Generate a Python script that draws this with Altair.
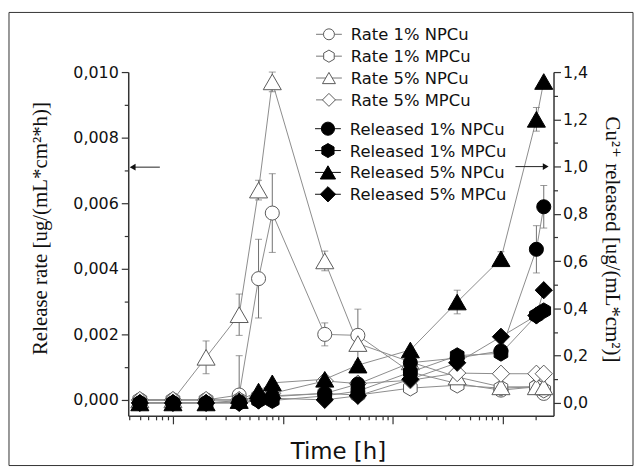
import altair as alt
import pandas as pd

# ---------------- data ----------------
time_h = [0.5, 1, 2, 4, 6, 8, 24, 48, 144, 384, 960, 2016, 2352]

rate_names = ["Rate 1% NPCu", "Rate 1% MPCu", "Rate 5% NPCu", "Rate 5% MPCu"]
released_names = ["Released 1% NPCu", "Released 1% MPCu", "Released 5% NPCu", "Released 5% MPCu"]

rate_1np = [0, 0, 0, 0.00015, 0.0037, 0.0057, 0.0020, 0.00197, 0.00085, 0.0005, 0.0003, 0.0004, 0.0002]
rate_1np_err = [0, 0, 0, 0.0012, 0.0012, 0.0012, 0.00035, 0.0008, 0.0001, 0.0001, 0.0001, 0.0001, 0.0001]
rate_1mp = [0, 0, 0, 0, 0.0001, 0.0001, 0.0002, 0.00015, 0.00036, 0.00045, 0.00036, 0.0004, 0.0003]
rate_1mp_err = [0, 0, 0, 0, 0, 0, 0, 0, 0, 0.0001, 0.0001, 0.0001, 0.0001]
rate_5np = [0, 0, 0.0013, 0.0026, 0.0064, 0.0097, 0.00424, 0.00172, 0.00116, 0.0007, 0.0004, 0.0004, 0.0004]
rate_5np_err = [0, 0, 0.0005, 0.00063, 0.0003, 0.0003, 0.0003, 0.0001, 0, 0, 0.0001, 0.0001, 0.0001]
rate_5mp = [0, 0, 0, 0, 0.0001, 0.0002, 0.00058, 0.0005, 0.0006, 0.00082, 0.0008, 0.0008, 0.0008]
rate_5mp_err = [0, 0, 0, 0, 0, 0, 0, 0, 0, 0.0001, 0.0001, 0.0001, 0.0001]

rel_1np = [0, 0, 0, 0.005, 0.02, 0.03, 0.04, 0.08, 0.17, 0.19, 0.22, 0.65, 0.83]
rel_1np_err = [0, 0, 0, 0, 0, 0, 0, 0, 0, 0, 0, 0.1, 0.09]
rel_1mp = [0, 0, 0, 0, 0.01, 0.01, 0.03, 0.05, 0.13, 0.2, 0.21, 0.37, 0.39]
rel_1mp_err = [0] * 13
rel_5np = [0, 0, 0, 0.01, 0.05, 0.085, 0.1, 0.16, 0.224, 0.427, 0.61, 1.2, 1.36]
rel_5np_err = [0, 0, 0, 0, 0, 0, 0, 0, 0, 0.05, 0.03, 0.05, 0]
rel_5mp = [0, 0, 0, 0, 0.01, 0.02, 0.013, 0.03, 0.1, 0.17, 0.28, 0.37, 0.477]
rel_5mp_err = [0] * 13

# axis-pointing arrows (data units)
arrow_left_x = [0.43, 0.76]
arrow_left_y = 0.0071
arrow_right_x = [1300, 2450]
arrow_right_y = 1.0

# ---------------- layout constants ----------------
VIEW_X0, VIEW_Y0 = 128, 70          # page position of plot origin
W, H = 428, 346
SANS = "DejaVu Sans"
SERIF = "Liberation Serif, DejaVu Serif, serif"
AX_COL = "#333333"
LINE_COL = "#8c8c8c"
ERR_COL = "#707070"
OPEN_STROKE = "#5a5a5a"
HEX = "M0,-1L0.866,-0.5L0.866,0.5L0,1L-0.866,0.5L-0.866,-0.5Z"
point_shapes = [("circle", 200), (HEX, 250), ("triangle-up", 330), ("diamond", 300)]
legend_open_sizes = [121, 150, 170, 170]
legend_filled_sizes = [175, 200, 235, 235]

# ---------------- tables ----------------
def long_table(names, values, errors):
    rows = []
    for n, vals, errs in zip(names, values, errors):
        for t, v, e in zip(time_h, vals, errs):
            lo = max(v - e, 0.0)
            rows.append({"time": t, "series": n, "v": v, "err": e, "lo": lo, "hi": v + e,
                         "locap": 1 if (v - e) >= 0 else 0})
    return pd.DataFrame(rows)

rate_df = long_table(rate_names, [rate_1np, rate_1mp, rate_5np, rate_5mp],
                     [rate_1np_err, rate_1mp_err, rate_5np_err, rate_5mp_err])
rel_df = long_table(released_names, [rel_1np, rel_1mp, rel_5np, rel_5mp],
                    [rel_1np_err, rel_1mp_err, rel_5np_err, rel_5mp_err])

arrowL_df = pd.DataFrame({"x": arrow_left_x, "y": [arrow_left_y] * 2})
arrowR_df = pd.DataFrame({"x": arrow_right_x, "y": [arrow_right_y] * 2})
frame_df = pd.DataFrame({"k": [0]})

def legend_table(names, cx, cy0, dy, sizes):
    rows = []
    for i, (n, (shape, _), sz) in enumerate(zip(names, point_shapes, sizes)):
        y = cy0 + dy * i - VIEW_Y0
        rows.append({"series": n, "shape": shape, "sz": sz,
                     "x1": cx - 13 - VIEW_X0, "x2": cx + 13 - VIEW_X0, "xc": cx - VIEW_X0,
                     "xt": cx + 22 - VIEW_X0, "y": y})
    return pd.DataFrame(rows)

leg_open = legend_table(rate_names, 330, 32, 22, legend_open_sizes)
leg_filled = legend_table(released_names, 329, 127, 22, legend_filled_sizes)

# ---------------- scales & axes ----------------
x_ticks = []
for dec in [0.1, 1, 10, 100, 1000]:
    for k in range(1, 10):
        v = round(k * dec, 6)
        if 0.392 <= v <= 2885:
            x_ticks.append(v)

x_scale = alt.Scale(type="log", domain=[0.392, 2885], nice=False)
x_axis = alt.Axis(
    values=x_ticks, labels=False, grid=False, domainColor=AX_COL, domainWidth=1.5,
    tickColor=AX_COL, tickWidth=1.2,
    tickSize={"condition": {"test": "abs(log(datum.value)/LN10 - round(log(datum.value)/LN10)) < 0.001", "value": 8}, "value": 4},
    title="Time [h]", titleFont=SANS, titleFontSize=23, titleFontWeight="normal", titleColor="#111",
    titleX=211, titleY=36, titleBaseline="middle", titleAlign="center",
)

left_scale = alt.Scale(domain=[-0.000485, 0.010], nice=False, zero=False)
left_major = "abs(datum.value*500 - round(datum.value*500)) < 0.000001"
left_axis = alt.Axis(
    orient="left", values=[round(i * 0.001, 3) for i in range(11)], grid=False,
    domainColor=AX_COL, domainWidth=1.5, tickColor=AX_COL, tickWidth=1.2,
    tickSize={"condition": {"test": left_major, "value": 7}, "value": 4},
    labelExpr=f"({left_major}) ? replace(format(datum.value, '.3f'), '.', ',') : ''",
    labelFont=SANS, labelFontSize=16, labelColor="#111", labelPadding=3,
    title="Release rate [ug/(mL*cm²*h)]", titleFont=SERIF, titleFontSize=21,
    titleFontWeight="normal", titleColor="#111", titleAngle=-90,
    titleX=-88, titleY=157, titleAlign="center", titleBaseline="middle",
)

right_scale = alt.Scale(domain=[-0.0547, 1.4], nice=False, zero=False)
right_major = "abs(datum.value*5 - round(datum.value*5)) < 0.000001"
right_axis = alt.Axis(
    orient="right", values=[round(i * 0.1, 1) for i in range(15)], grid=False,
    domainColor=AX_COL, domainWidth=1.5, tickColor=AX_COL, tickWidth=1.2,
    tickSize={"condition": {"test": right_major, "value": 7}, "value": 4},
    labelExpr=f"({right_major}) ? replace(format(datum.value, '.1f'), '.', ',') : ''",
    labelFont=SANS, labelFontSize=16, labelColor="#111", labelPadding=2,
    title="Cu²⁺ released [ug/(mL*cm²)]", titleFont=SERIF, titleFontSize=21,
    titleFontWeight="normal", titleColor="#111", titleAngle=90,
    titleX=58, titleY=168, titleAlign="center", titleBaseline="middle",
)

X = lambda f: alt.X(f"{f}:Q", scale=x_scale, axis=x_axis)
YL = lambda f: alt.Y(f"{f}:Q", scale=left_scale, axis=left_axis)
YR = lambda f: alt.Y(f"{f}:Q", scale=right_scale, axis=right_axis)
PX = lambda f: alt.X(f"{f}:Q", scale=None, axis=None)
PY = lambda f: alt.Y(f"{f}:Q", scale=None, axis=None)


def group(df, names, Y, open_markers):
    layers = []
    layers.append(
        alt.Chart(df).mark_line(color=LINE_COL, strokeWidth=1).encode(
            x=X("time"), y=Y("v"), detail="series:N")
    )
    err = alt.Chart(df).transform_filter("datum.err > 0")
    layers.append(err.mark_rule(color=ERR_COL, strokeWidth=1).encode(x=X("time"), y=Y("lo"), y2="hi"))
    layers.append(err.transform_filter("datum.locap == 1")
                  .mark_tick(color=ERR_COL, orient="horizontal", size=7, thickness=1)
                  .encode(x=X("time"), y=Y("lo")))
    layers.append(err.mark_tick(color=ERR_COL, orient="horizontal", size=7, thickness=1)
                  .encode(x=X("time"), y=Y("hi")))
    for name, (shape, size) in zip(names, point_shapes):
        sub = alt.Chart(df).transform_filter(alt.FieldEqualPredicate(field="series", equal=name))
        if open_markers:
            m = sub.mark_point(shape=shape, size=size, filled=True, fill="white", stroke=OPEN_STROKE,
                               strokeWidth=1, opacity=1)
        else:
            m = sub.mark_point(shape=shape, size=size, filled=True, fill="black", stroke="black",
                               strokeWidth=1, opacity=1)
        layers.append(m.encode(x=X("time"), y=Y("v")))
    return layers


def legend_layers(ldf, open_markers):
    line_col = "#777777" if open_markers else "#111111"
    fill = "white" if open_markers else "black"
    stroke = OPEN_STROKE if open_markers else "black"
    base = alt.Chart(ldf)
    return [
        base.mark_rule(color=line_col, strokeWidth=1).encode(x=PX("x1"), x2="x2", y=PY("y")),
        base.mark_point(filled=True, fill=fill, stroke=stroke, strokeWidth=1, opacity=1).encode(
            x=PX("xc"), y=PY("y"), shape=alt.Shape("shape:N", scale=None),
            size=alt.Size("sz:Q", scale=None)),
        base.mark_text(align="left", baseline="middle", font=SANS, fontSize=16.5, color="#111", dy=1).encode(
            x=PX("xt"), y=PY("y"), text="series:N"),
    ]


frame = alt.Chart(frame_df).mark_rect(fill="transparent", stroke="#333333", strokeWidth=1).encode(
    x=alt.value(8 - VIEW_X0), x2=alt.value(636 - VIEW_X0), y=alt.value(10 - VIEW_Y0), y2=alt.value(466 - VIEW_Y0))

arrowL = [
    alt.Chart(arrowL_df).mark_line(color="#222", strokeWidth=1).encode(x=X("x"), y=YL("y")),
    alt.Chart(arrowL_df.head(1)).mark_point(shape="triangle-left", size=45, filled=True, color="#111", opacity=1)
    .encode(x=X("x"), y=YL("y")),
]
arrowR = [
    alt.Chart(arrowR_df).mark_line(color="#222", strokeWidth=1).encode(x=X("x"), y=YR("y")),
    alt.Chart(arrowR_df.tail(1)).mark_point(shape="triangle-right", size=45, filled=True, color="#111", opacity=1)
    .encode(x=X("x"), y=YR("y")),
]

left = alt.layer(frame, *group(rate_df, rate_names, YL, True), *arrowL)
right = alt.layer(*group(rel_df, released_names, YR, False), *arrowR)
legend = alt.layer(*legend_layers(leg_open, True), *legend_layers(leg_filled, False))

chart = (
    alt.layer(left, right, legend)
    .resolve_scale(y="independent")
    .properties(width=W, height=H, padding={"left": 0, "top": 2, "right": 0, "bottom": 0},
                background="white")
    .configure_view(strokeWidth=0)
)

chart.save("out.html", embed_options={"renderer": "svg", "actions": False})
